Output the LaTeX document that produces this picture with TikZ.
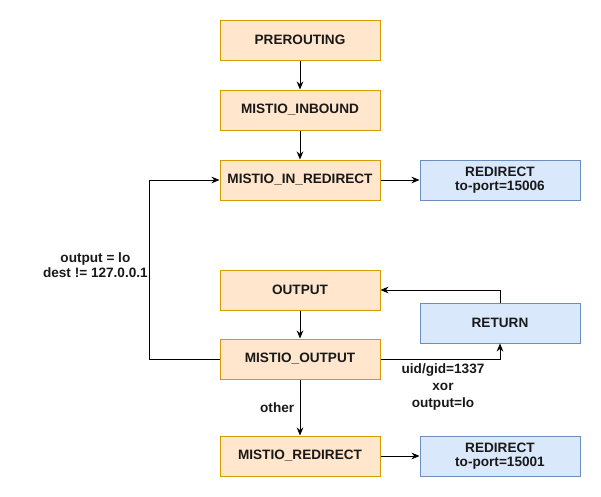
\documentclass[tikz,border=0pt]{standalone}
\usepackage{fontspec}
\setmainfont{Liberation Sans}
\usetikzlibrary{arrows.meta}
\definecolor{chainfill}{HTML}{FFE6CC}
\definecolor{chaindraw}{HTML}{D79B00}
\definecolor{targetfill}{HTML}{DAE8FC}
\definecolor{targetdraw}{HTML}{6C8EBF}
\begin{document}
\begin{tikzpicture}[
    x=0.75pt, y=-0.75pt,
    every node/.style={font=\bfseries\fontsize{10.2}{11}\selectfont, text=black!90},
    chain/.style={draw=chaindraw, fill=chainfill, line width=0.75pt,
      minimum width=120pt, minimum height=30pt, inner sep=0pt},
    target/.style={draw=targetdraw, fill=targetfill, line width=0.75pt,
      minimum width=120pt, minimum height=30pt, inner sep=0pt, align=center},
    edge/.style={line width=0.75pt, -{Stealth[length=6pt, width=5pt]}},
  ]
  \useasboundingbox (0,0) rectangle (601,497);
  % chains
  \node[chain] (pre)  at (300,40)  {PREROUTING};
  \node[chain] (inb)  at (300,110) {MISTIO\_INBOUND};
  \node[chain] (inr)  at (300,180) {MISTIO\_IN\_REDIRECT};
  \node[chain] (out)  at (300,290) {OUTPUT};
  \node[chain] (mout) at (300,359) {MISTIO\_OUTPUT};
  \node[chain] (mred) at (300,456) {MISTIO\_REDIRECT};
  % targets
  \node[target] (red1) at (500,180) {REDIRECT\\to-port=15006};
  \node[target] (ret)  at (500,323) {RETURN};
  \node[target] (red2) at (500,456) {REDIRECT\\to-port=15001};
  % conditions
  \node[align=center, anchor=east, inner sep=0pt] (lolab) at (148,265) {output = lo\\dest != 127.0.0.1};
  \node[align=center, font=\bfseries\fontsize{10.2}{12.75}\selectfont] (uidlab) at (443,387)
    {uid/gid=1337\\xor\\output=lo};
  \draw[edge] (pre) -- (inb);
  \draw[edge] (inb) -- (inr);
  \draw[edge] (inr) -- (red1);
  \draw[edge] (out) -- (mout);
  \draw[edge] (mout) -- node[left, inner sep=4pt] {other} (mred);
  \draw[edge] (mred) -- (red2);
  \draw[edge] (mout.west) -- ++(-70,0) |- (inr.west);
  \draw[edge] (mout.east) -| (ret.south);
  \draw[edge] (ret.north) |- (out.east);
\end{tikzpicture}
\end{document}
